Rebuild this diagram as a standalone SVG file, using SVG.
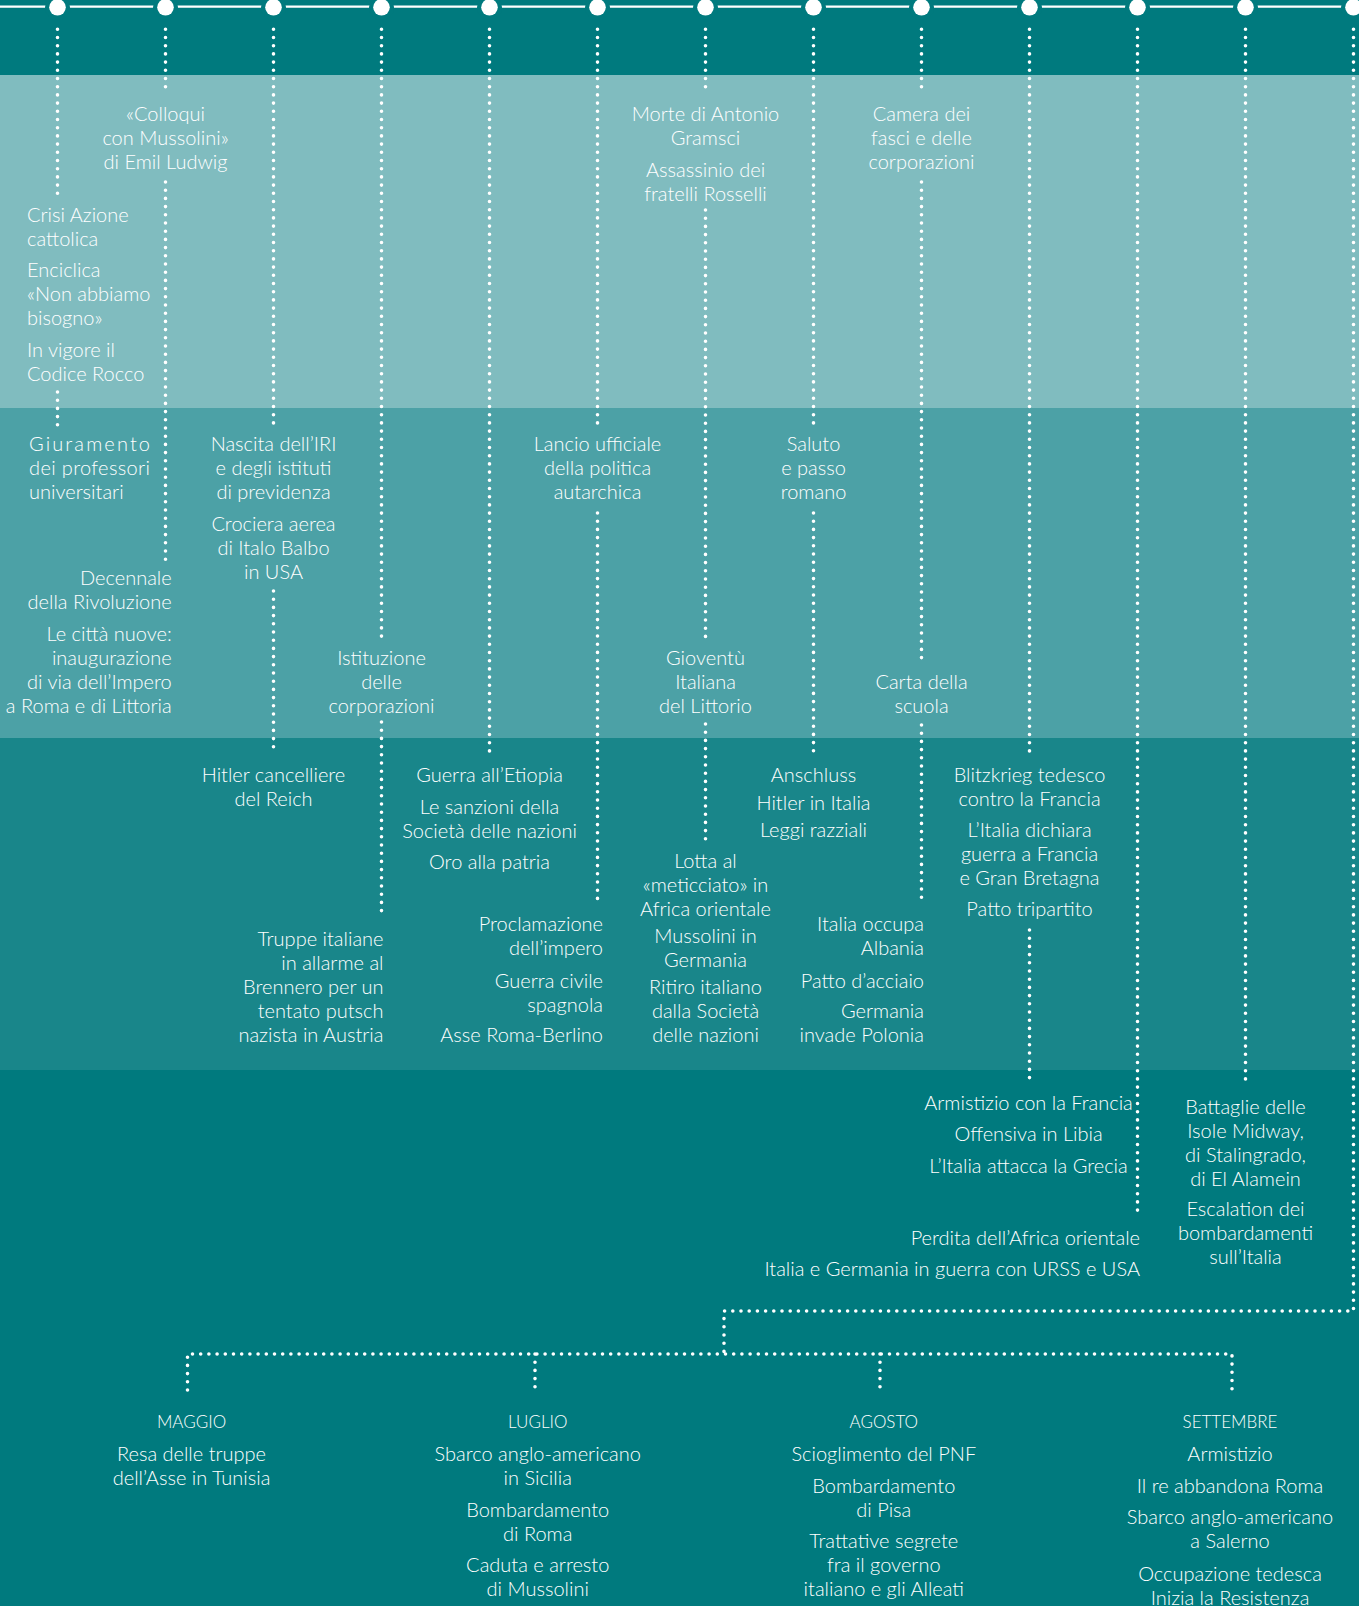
<svg xmlns="http://www.w3.org/2000/svg" width="1359" height="1606" viewBox="0 0 1359 1606">
<style>
.t{font-family:Lato,"Open Sans","Liberation Sans",sans-serif;font-weight:300;font-size:20px;fill:#fff}
.m{text-anchor:middle}
.e{text-anchor:end}
.mo{font-size:17px}
.d{fill:none;stroke:#fff;stroke-width:3.6;stroke-linecap:round;stroke-dasharray:0 8.2}
.tl{stroke:#fff;stroke-width:2.2}
.cb{fill:#007A7E}
.c{fill:#fff}
</style>
<g id="bands">
<rect x="0" y="0" width="1359" height="1606" fill="#007A7E"/>
<rect x="0" y="75" width="1359" height="333" fill="#80BCBF"/>
<rect x="0" y="408" width="1359" height="330" fill="#4CA1A6"/>
<rect x="0" y="738" width="1359" height="332" fill="#19868A"/>
</g>
<g id="timeline">
<line class="tl" x1="0" y1="6.7" x2="1359" y2="6.7"/>
<g class="cb">
<circle cx="57.5" cy="7.3" r="12.5"/><circle cx="165.5" cy="7.3" r="12.5"/><circle cx="273.5" cy="7.3" r="12.5"/><circle cx="381.5" cy="7.3" r="12.5"/><circle cx="489.5" cy="7.3" r="12.5"/><circle cx="597.5" cy="7.3" r="12.5"/><circle cx="705.5" cy="7.3" r="12.5"/><circle cx="813.5" cy="7.3" r="12.5"/><circle cx="921.5" cy="7.3" r="12.5"/><circle cx="1029.5" cy="7.3" r="12.5"/><circle cx="1137.5" cy="7.3" r="12.5"/><circle cx="1245.5" cy="7.3" r="12.5"/><circle cx="1353.5" cy="7.3" r="12.5"/>
</g>
<g class="c">
<circle cx="57.5" cy="7.3" r="8.3"/><circle cx="165.5" cy="7.3" r="8.3"/><circle cx="273.5" cy="7.3" r="8.3"/><circle cx="381.5" cy="7.3" r="8.3"/><circle cx="489.5" cy="7.3" r="8.3"/><circle cx="597.5" cy="7.3" r="8.3"/><circle cx="705.5" cy="7.3" r="8.3"/><circle cx="813.5" cy="7.3" r="8.3"/><circle cx="921.5" cy="7.3" r="8.3"/><circle cx="1029.5" cy="7.3" r="8.3"/><circle cx="1137.5" cy="7.3" r="8.3"/><circle cx="1245.5" cy="7.3" r="8.3"/><circle cx="1353.5" cy="7.3" r="8.3"/>
</g>
</g>
<g id="connectors">
<path class="d" d="M57.5 29.3V196M57.5 392V425"/>
<path class="d" d="M165.5 29.3V92M165.5 182V562"/>
<path class="d" d="M273.5 29.3V425M273.5 591V752"/>
<path class="d" d="M381.5 29.3V637M381.5 722V917"/>
<path class="d" d="M489.5 29.3V753"/>
<path class="d" d="M597.5 29.3V425M597.5 513V901"/>
<path class="d" d="M705.5 29.3V92M705.5 210V638M705.5 724V842"/>
<path class="d" d="M813.5 29.3V425M813.5 513V753"/>
<path class="d" d="M921.5 29.3V92M921.5 182V662M921.5 725V903"/>
<path class="d" d="M1029.5 29.3V753M1029.5 930V1082"/>
<path class="d" d="M1137.5 29.3V1217"/>
<path class="d" d="M1245.5 29.3V1082"/>
<path class="d" d="M1353.5 29.3V1311H724V1354"/>
<path class="d" d="M187.5 1390V1354H1232V1390M535 1354V1390M880 1354V1390"/>
</g>
<g id="n-crisi"><text class="t" transform="translate(27 221.7)"><tspan x="0">Crisi Azione</tspan><tspan x="0" dy="24">cattolica</tspan></text></g>
<g id="n-enciclica"><text class="t" transform="translate(27 276.7)"><tspan x="0">Enciclica</tspan><tspan x="0" dy="24">«Non abbiamo</tspan><tspan x="0" dy="24">bisogno»</tspan></text></g>
<g id="n-rocco"><text class="t" transform="translate(27 356.7)"><tspan x="0">In vigore il</tspan><tspan x="0" dy="24">Codice Rocco</tspan></text></g>
<g id="n-giuramento">
<text class="t" transform="translate(29 450.7)" textLength="121" lengthAdjust="spacing">Giuramento</text>
<text class="t" transform="translate(29 474.7)" textLength="121" lengthAdjust="spacing">dei professori</text>
<text class="t" transform="translate(29 498.7)">universitari</text>
</g>
<g id="n-colloqui"><text class="t m" transform="translate(165.5 120.7)"><tspan x="0">«Colloqui</tspan><tspan x="0" dy="24">con Mussolini»</tspan><tspan x="0" dy="24">di Emil Ludwig</tspan></text></g>
<g id="n-decennale"><text class="t e" transform="translate(171.7 585)"><tspan x="0">Decennale</tspan><tspan x="0" dy="24">della Rivoluzione</tspan></text></g>
<g id="n-citta"><text class="t e" transform="translate(171.7 640.7)"><tspan x="0">Le città nuove:</tspan><tspan x="0" dy="24">inaugurazione</tspan><tspan x="0" dy="24">di via dell’Impero</tspan><tspan x="0" dy="24">a Roma e di Littoria</tspan></text></g>
<g id="n-iri"><text class="t m" transform="translate(273.5 450.7)"><tspan x="0">Nascita dell’IRI</tspan><tspan x="0" dy="24">e degli istituti</tspan><tspan x="0" dy="24">di previdenza</tspan></text></g>
<g id="n-balbo"><text class="t m" transform="translate(273.5 531)"><tspan x="0">Crociera aerea</tspan><tspan x="0" dy="24">di Italo Balbo</tspan><tspan x="0" dy="24">in USA</tspan></text></g>
<g id="n-hitler"><text class="t m" transform="translate(273.5 782)"><tspan x="0">Hitler cancelliere</tspan><tspan x="0" dy="24">del Reich</tspan></text></g>
<g id="n-corporazioni"><text class="t m" transform="translate(381.5 665)"><tspan x="0">Istituzione</tspan><tspan x="0" dy="24">delle</tspan><tspan x="0" dy="24">corporazioni</tspan></text></g>
<g id="n-truppe"><text class="t e" transform="translate(383.5 946)"><tspan x="0">Truppe italiane</tspan><tspan x="0" dy="24">in allarme al</tspan><tspan x="0" dy="24">Brennero per un</tspan><tspan x="0" dy="24">tentato putsch</tspan><tspan x="0" dy="24">nazista in Austria</tspan></text></g>
<g id="n-etiopia"><text class="t m" transform="translate(489.5 782)">Guerra all’Etiopia</text></g>
<g id="n-sanzioni"><text class="t m" transform="translate(489.5 813.5)"><tspan x="0">Le sanzioni della</tspan><tspan x="0" dy="24">Società delle nazioni</tspan></text></g>
<g id="n-oro"><text class="t m" transform="translate(489.5 869)">Oro alla patria</text></g>
<g id="n-autarchia"><text class="t m" transform="translate(597.5 450.7)"><tspan x="0">Lancio ufficiale</tspan><tspan x="0" dy="24">della politica</tspan><tspan x="0" dy="24">autarchica</tspan></text></g>
<g id="n-impero"><text class="t e" transform="translate(603 931)"><tspan x="0">Proclamazione</tspan><tspan x="0" dy="24">dell’impero</tspan></text></g>
<g id="n-spagna"><text class="t e" transform="translate(603 987.6)"><tspan x="0">Guerra civile</tspan><tspan x="0" dy="24">spagnola</tspan></text></g>
<g id="n-asse"><text class="t e" transform="translate(603 1042)">Asse Roma-Berlino</text></g>
<g id="n-gramsci"><text class="t m" transform="translate(705.5 120.7)"><tspan x="0">Morte di Antonio</tspan><tspan x="0" dy="24">Gramsci</tspan></text></g>
<g id="n-rosselli"><text class="t m" transform="translate(705.5 176.7)"><tspan x="0">Assassinio dei</tspan><tspan x="0" dy="24">fratelli Rosselli</tspan></text></g>
<g id="n-gil"><text class="t m" transform="translate(705.5 665)"><tspan x="0">Gioventù</tspan><tspan x="0" dy="24">Italiana</tspan><tspan x="0" dy="24">del Littorio</tspan></text></g>
<g id="n-meticciato"><text class="t m" transform="translate(705.5 868)"><tspan x="0">Lotta al</tspan><tspan x="0" dy="24">«meticciato» in</tspan><tspan x="0" dy="24">Africa orientale</tspan></text></g>
<g id="n-mussolini-germania"><text class="t m" transform="translate(705.5 943)"><tspan x="0">Mussolini in</tspan><tspan x="0" dy="24">Germania</tspan></text></g>
<g id="n-ritiro"><text class="t m" transform="translate(705.5 994)"><tspan x="0">Ritiro italiano</tspan><tspan x="0" dy="24">dalla Società</tspan><tspan x="0" dy="24">delle nazioni</tspan></text></g>
<g id="n-saluto"><text class="t m" transform="translate(813.5 450.7)"><tspan x="0">Saluto</tspan><tspan x="0" dy="24">e passo</tspan><tspan x="0" dy="24">romano</tspan></text></g>
<g id="n-anschluss"><text class="t m" transform="translate(813.5 782)">Anschluss</text></g>
<g id="n-hitler-italia"><text class="t m" transform="translate(813.5 809.5)">Hitler in Italia</text></g>
<g id="n-leggi"><text class="t m" transform="translate(813.5 837)">Leggi razziali</text></g>
<g id="n-camera"><text class="t m" transform="translate(921.5 120.7)"><tspan x="0">Camera dei</tspan><tspan x="0" dy="24">fasci e delle</tspan><tspan x="0" dy="24">corporazioni</tspan></text></g>
<g id="n-scuola"><text class="t m" transform="translate(921.5 689)"><tspan x="0">Carta della</tspan><tspan x="0" dy="24">scuola</tspan></text></g>
<g id="n-albania"><text class="t e" transform="translate(924 931)"><tspan x="0">Italia occupa</tspan><tspan x="0" dy="24">Albania</tspan></text></g>
<g id="n-acciaio"><text class="t e" transform="translate(924 987.6)">Patto d’acciaio</text></g>
<g id="n-polonia"><text class="t e" transform="translate(924 1018)"><tspan x="0">Germania</tspan><tspan x="0" dy="24">invade Polonia</tspan></text></g>
<g id="n-blitz"><text class="t m" transform="translate(1029.5 782)"><tspan x="0">Blitzkrieg tedesco</tspan><tspan x="0" dy="24">contro la Francia</tspan></text></g>
<g id="n-dichiara"><text class="t m" transform="translate(1029.5 837)"><tspan x="0">L’Italia dichiara</tspan><tspan x="0" dy="24">guerra a Francia</tspan><tspan x="0" dy="24">e Gran Bretagna</tspan></text></g>
<g id="n-tripartito"><text class="t m" transform="translate(1029.5 916)">Patto tripartito</text></g>
<g id="n-armistizio-francia"><text class="t m" transform="translate(1028.5 1109.5)">Armistizio con la Francia</text></g>
<g id="n-libia"><text class="t m" transform="translate(1028.5 1141)">Offensiva in Libia</text></g>
<g id="n-grecia"><text class="t m" transform="translate(1028.5 1173)">L’Italia attacca la Grecia</text></g>
<g id="n-africa"><text class="t e" transform="translate(1140 1244.6)">Perdita dell’Africa orientale</text></g>
<g id="n-urss"><text class="t e" transform="translate(1140 1276.4)">Italia e Germania in guerra con URSS e USA</text></g>
<g id="n-midway"><text class="t m" transform="translate(1245.5 1113.5)"><tspan x="0">Battaglie delle</tspan><tspan x="0" dy="24">Isole Midway,</tspan><tspan x="0" dy="24">di Stalingrado,</tspan><tspan x="0" dy="24">di El Alamein</tspan></text></g>
<g id="n-escalation"><text class="t m" transform="translate(1245.5 1216)"><tspan x="0">Escalation dei</tspan><tspan x="0" dy="24">bombardamenti</tspan><tspan x="0" dy="24">sull’Italia</tspan></text></g>
<g id="n-maggio">
<text class="t m mo" transform="translate(191.5 1428)">MAGGIO</text>
<text class="t m" transform="translate(191.5 1461)"><tspan x="0">Resa delle truppe</tspan><tspan x="0" dy="24">dell’Asse in Tunisia</tspan></text>
</g>
<g id="n-luglio">
<text class="t m mo" transform="translate(537.7 1428)">LUGLIO</text>
<text class="t m" transform="translate(537.7 1461)"><tspan x="0">Sbarco anglo-americano</tspan><tspan x="0" dy="24">in Sicilia</tspan></text>
<text class="t m" transform="translate(537.7 1516.5)"><tspan x="0">Bombardamento</tspan><tspan x="0" dy="24">di Roma</tspan></text>
<text class="t m" transform="translate(537.7 1572.3)"><tspan x="0">Caduta e arresto</tspan><tspan x="0" dy="24">di Mussolini</tspan></text>
</g>
<g id="n-agosto">
<text class="t m mo" transform="translate(883.8 1428)">AGOSTO</text>
<text class="t m" transform="translate(883.8 1461)">Scioglimento del PNF</text>
<text class="t m" transform="translate(883.8 1492.5)"><tspan x="0">Bombardamento</tspan><tspan x="0" dy="24">di Pisa</tspan></text>
<text class="t m" transform="translate(883.8 1548)"><tspan x="0">Trattative segrete</tspan><tspan x="0" dy="24">fra il governo</tspan><tspan x="0" dy="24">italiano e gli Alleati</tspan></text>
</g>
<g id="n-settembre">
<text class="t m mo" transform="translate(1230 1428)">SETTEMBRE</text>
<text class="t m" transform="translate(1230 1461)">Armistizio</text>
<text class="t m" transform="translate(1230 1492.5)">Il re abbandona Roma</text>
<text class="t m" transform="translate(1230 1524)"><tspan x="0">Sbarco anglo-americano</tspan><tspan x="0" dy="24">a Salerno</tspan></text>
<text class="t m" transform="translate(1230 1580.6)"><tspan x="0">Occupazione tedesca</tspan><tspan x="0" dy="24">Inizia la Resistenza</tspan></text>
</g>
</svg>
